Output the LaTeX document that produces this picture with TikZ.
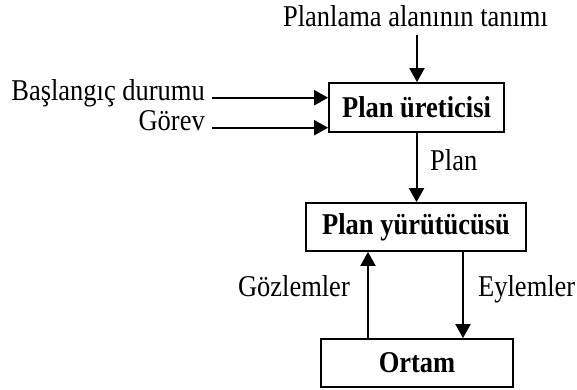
\documentclass[tikz,border=0pt]{standalone}
\usepackage{fontspec}
\setmainfont{Liberation Serif}[FakeStretch=0.877]
\usetikzlibrary{arrows.meta}
\begin{document}
\begin{tikzpicture}[x=1pt,y=-1pt,
  box/.style={draw, line width=1.8pt, inner sep=0pt,
    font=\fontsize{30.2}{34}\selectfont\bfseries},
  lbl/.style={inner sep=0pt, font=\fontsize{30.2}{34}\selectfont},
  arr/.style={line width=2pt, -{Triangle[length=14pt,width=15pt]}}]
\useasboundingbox (0,0) rectangle (577,389);

% the three blocks
\node[box, minimum width=175pt, minimum height=49pt] (gen) at (416.5,107.5) {Plan üreticisi};
\node[box, minimum width=220pt, minimum height=48pt] (exe) at (416,227) {Plan yürütücüsü};
\node[box, minimum width=192pt, minimum height=48pt] (env) at (417,363) {Ortam};

% inputs of the plan generator
\node[lbl, anchor=base] (dom) at (415.5,26) {Planlama alanının tanımı};
\coordinate (domin) at (417,35);
\draw[arr] (domin) -- (domin |- gen.north);

\node[lbl, anchor=base east] (start) at (205,100) {Başlangıç durumu};
\node[lbl, anchor=base east] (task) at (205,130) {Görev};
\draw[arr] ([xshift=7pt]start.mid east) -- (start.mid east -| gen.west);
\draw[arr] ([xshift=7pt]task.mid east) -- (task.mid east -| gen.west);

% plan to the executor
\draw[arr] (gen.south) -- (gen.south |- exe.north);
\node[lbl, anchor=base west] (planlbl) at (430,170) {Plan};

% loop with the environment
\draw[arr] ([xshift=-49pt]env.north) -- ([xshift=-49pt]env.north |- exe.south);
\draw[arr] ([xshift=47pt]exe.south) -- ([xshift=47pt]exe.south |- env.north);
\node[lbl, anchor=base east] (obs) at (350,296) {Gözlemler};
\node[lbl, anchor=base west] (act) at (478,296) {Eylemler};
\end{tikzpicture}
\end{document}
